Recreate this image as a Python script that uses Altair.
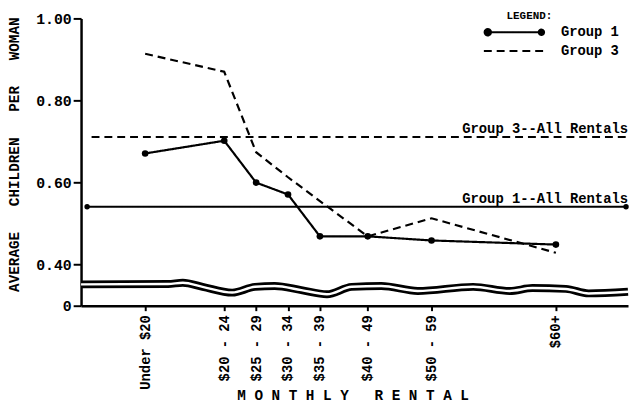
import altair as alt
import pandas as pd

# ---------------- data ----------------
rent_labels = ["Under $20", "$20 - 24", "$25 - 29", "$30 - 34",
               "$35 - 39", "$40 - 49", "$50 - 59", "$60+"]
rent_x = [9.6, 22, 27, 32, 37, 44.5, 54.5, 74]

group1_values = [0.671, 0.702, 0.600, 0.571, 0.469, 0.469, 0.459, 0.449]
group3_values = [0.914, 0.870, 0.674, 0.613, 0.555, 0.469, 0.513, 0.429]
groups = ["Group 1", "Group 3"]

all_rentals_labels = ["Group 1--All Rentals", "Group 3--All Rentals"]
all_rentals_values = [0.541, 0.711]
all_rentals_start = [0.5, 1.2]
all_rentals_end = [85.0, 85.31]

y_tick_values = [0.30, 0.40, 0.60, 0.80, 1.00]
y_tick_labels = ["0", "0.40", "0.60", "0.80", "1.00"]

# scale-break wavy band (between 0.40 and 0)
break_x = [-0.45, 13.19, 15.51, 18.61, 23.25, 26.81, 29.91, 34.09, 38.11,
           41.98, 46.63, 52.35, 61.02, 66.75, 70.31, 75.57, 79.13, 85.31]
break_y = [0.352, 0.353, 0.356, 0.346, 0.332, 0.346, 0.348, 0.338, 0.328,
           0.346, 0.348, 0.336, 0.346, 0.336, 0.343, 0.341, 0.330, 0.334]

x_domain = [-0.45, 85.31]
y_domain = [0.30, 1.00]

# ---------------- tables ----------------
series = pd.DataFrame({
    "x": rent_x * 2,
    "y": group1_values + group3_values,
    "group": [groups[0]] * len(rent_x) + [groups[1]] * len(rent_x),
})
g1_points = pd.DataFrame({"x": rent_x, "y": group1_values})
rules = pd.DataFrame({
    "group": groups,
    "label": all_rentals_labels,
    "y": all_rentals_values,
    "x": all_rentals_start,
    "x2": all_rentals_end,
})
g1_ends = pd.DataFrame({
    "x": [all_rentals_start[0], all_rentals_end[0]],
    "y": [all_rentals_values[0]] * 2,
})
brk = pd.DataFrame({"x": break_x, "y": break_y})

FONT = "Liberation Mono"
NB = "\u00a0"

x_label_expr = ("[" + ",".join("'" + s + "'" for s in rent_labels) + "][indexof(["
                + ",".join(str(v) for v in rent_x) + "], datum.value)]")
y_label_expr = ("[" + ",".join("'" + s + "'" for s in y_tick_labels) + "][indexof(["
                + ",".join(str(v) for v in y_tick_values) + "], datum.value)]")

x_title = NB.join("MONTHLY") + NB * 3 + NB.join("RENTAL")
y_title = (NB * 3).join(["AVERAGE", "CHILDREN", "PER", "WOMAN"])

x_axis = alt.Axis(
    values=rent_x, labelExpr=x_label_expr, labelAngle=270, labelAlign="right",
    labelBaseline="middle", labelPadding=4, labelOverlap=False,
    labelFont=FONT, labelFontSize=14, labelFontWeight="bold", labelColor="black",
    tickSize=5, tickWidth=2, tickColor="black",
    domainWidth=2.5, domainColor="black", grid=False,
    title=x_title, titleFont=FONT, titleFontSize=14.5, titleFontWeight="bold",
    titleColor="black", titleX=275, titleY=95, titleBaseline="alphabetic",
)
y_axis = alt.Axis(
    values=y_tick_values, labelExpr=y_label_expr, labelPadding=2,
    labelFont=FONT, labelFontSize=15, labelFontWeight="bold", labelColor="black",
    tickSize=8, tickWidth=2, tickColor="black",
    domainWidth=2.5, domainColor="black", grid=False,
    title=y_title, titleFont=FONT, titleFontSize=14.5, titleFontWeight="bold",
    titleColor="black", titleAngle=270, titleX=-67, titleY=137.5,
    titleBaseline="middle", titleAlign="center",
)

x_scale = alt.Scale(domain=x_domain, nice=False, zero=False)
X = alt.X("x:Q", scale=x_scale, axis=x_axis)
Y = alt.Y("y:Q", scale=alt.Scale(domain=y_domain, nice=False, zero=False), axis=y_axis)

# legend symbols (drawn in a box scaled by sqrt(symbolSize)/2 = 5 px per unit)
g1_symbol = ("M-5.2,0L5.5,0"
             "M-5.85,0a0.65,0.65 0 1,0 1.3,0a0.65,0.65 0 1,0 -1.3,0"
             "M5.1,0a0.55,0.55 0 1,0 1.1,0a0.55,0.55 0 1,0 -1.1,0")
g3_symbol = "M-6,0L6,0"

legend = alt.Legend(
    title=NB * 2 + "LEGEND:", orient="none", legendX=431, legendY=-8,
    symbolType={"expr": "datum.value === 'Group 1' ? '" + g1_symbol + "' : '" + g3_symbol + "'"},
    symbolSize=100, symbolStrokeWidth=2,
    symbolStrokeColor="black", symbolFillColor="black",
    labelFont=FONT, labelFontSize=14, labelFontWeight="bold", labelColor="black",
    labelOffset=41,
    titleFont=FONT, titleFontSize=11, titleFontWeight="bold", titleColor="black",
    titleAnchor="start", titlePadding=4, rowPadding=4, padding=0,
)
dash = alt.StrokeDash(
    "group:N",
    scale=alt.Scale(domain=groups, range=[[1, 0], [8, 5]]),
    legend=legend,
)

break_black = alt.Chart(brk).mark_line(color="black", strokeWidth=8,
                                       interpolate="monotone").encode(x=X, y=Y)
break_white = alt.Chart(brk).mark_line(color="white", strokeWidth=2.5,
                                       interpolate="monotone").encode(x=X, y=Y)

lines = alt.Chart(series).mark_line(color="black", strokeWidth=2.2).encode(
    x=X, y=Y, strokeDash=dash, detail="group:N")
points = alt.Chart(g1_points).mark_circle(color="black", size=45, opacity=1).encode(x=X, y=Y)

rule_layer = alt.Chart(rules).mark_rule(color="black", strokeWidth=2).encode(
    x=X, x2="x2:Q", y=Y, strokeDash=dash)
ends = alt.Chart(g1_ends).mark_circle(color="black", size=30, opacity=1).encode(x=X, y=Y)
labels = alt.Chart(rules).mark_text(
    align="right", baseline="alphabetic", dy=-4, font=FONT, fontSize=14,
    fontWeight="bold", color="black",
).encode(x=alt.datum(x_domain[1], scale=x_scale, axis=x_axis), y=Y, text="label:N")

chart = alt.layer(
    break_black, break_white, rule_layer, lines, points, ends, labels
).properties(
    width=554, height=291,
    padding={"left": 74, "top": 8, "right": 1, "bottom": 98},
    autosize=alt.AutoSizeParams(type="none"),
    background="white",
).configure_view(stroke=None)

chart.save("out.html", embed_options={"renderer": "svg", "actions": False})
